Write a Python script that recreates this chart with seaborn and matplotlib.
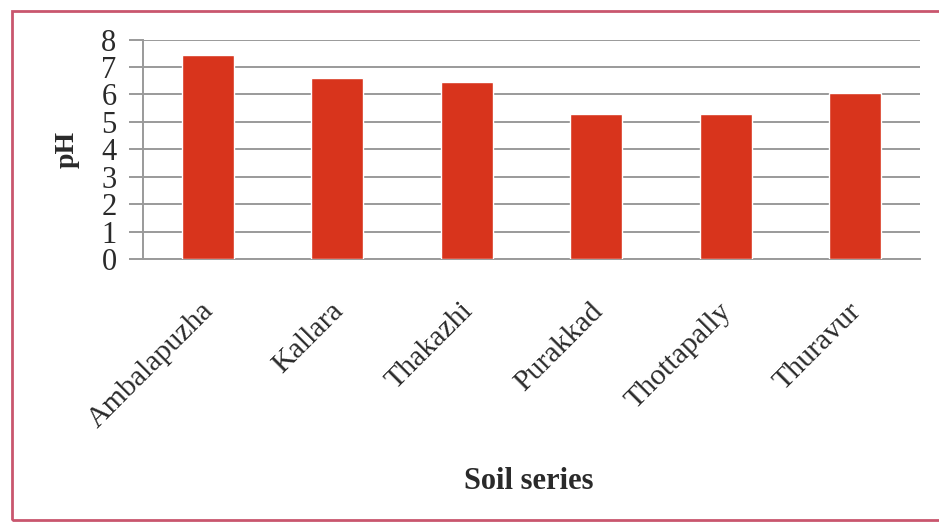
import matplotlib
matplotlib.use("Agg")
import matplotlib.pyplot as plt
import matplotlib.transforms as mtransforms
import seaborn as sns
import pandas as pd
from matplotlib.patches import Rectangle

# Soil pH by soil series
series = ["Ambalapuzha", "Kallara", "Thakazhi", "Purakkad", "Thottapally", "Thuravur"]
ph_values = [7.45, 6.6, 6.45, 5.27, 5.27, 6.06]
y_ticks = [0, 1, 2, 3, 4, 5, 6, 7, 8]

df = pd.DataFrame({"Soil series": series, "pH": ph_values})

sns.set_theme(style="white")
plt.rcParams["font.family"] = ["Liberation Serif", "DejaVu Serif"]

grid_color = "#9a9a9a"
bar_color = "#d8341c"
text_color = "#2a2a2a"

fig = plt.figure(figsize=(9.39, 5.26), dpi=100)
ax = fig.add_axes([0.1523, 0.5076, 0.8275, 0.4173])

sns.barplot(data=df, x="Soil series", y="pH", color=bar_color, width=0.4,
            saturation=1, ax=ax, zorder=3)

ax.set_xlim(-0.5, len(series) - 0.5)
ax.set_ylim(0, 8)
ax.set_yticks(y_ticks)
ax.set_yticklabels([str(t) for t in y_ticks], fontsize=22)
ax.yaxis.grid(True, color=grid_color, linewidth=1.4, zorder=0)
ax.set_axisbelow(True)

for side in ["top", "right"]:
    ax.spines[side].set_visible(False)
for side in ["left", "bottom"]:
    ax.spines[side].set_visible(True)
    ax.spines[side].set_color(grid_color)
    ax.spines[side].set_linewidth(1.4)

ax.tick_params(axis="y", which="major", left=True, length=10, width=1.4,
               color=grid_color, pad=9, labelcolor=text_color)
ax.tick_params(axis="x", bottom=False, pad=22, labelcolor=text_color)
shift = mtransforms.ScaledTranslation(-0.07, 0, fig.dpi_scale_trans)
for lbl in ax.get_xticklabels():
    lbl.set_rotation(45)
    lbl.set_ha("right")
    lbl.set_rotation_mode("anchor")
    lbl.set_fontsize(21.5)
    lbl.set_transform(lbl.get_transform() + shift)

ax.set_xlabel("")
ax.set_ylabel("pH", fontsize=20, fontweight="bold", color=text_color, labelpad=16)
fig.text(0.563, 0.085, "Soil series", fontsize=22, fontweight="bold",
         color=text_color, ha="center", va="center")

# Frame around the figure (open on the right edge)
fig.patches.append(Rectangle((12 / 939, 6 / 526), 940 / 939, 509 / 526,
                             transform=fig.transFigure, fill=False,
                             edgecolor="#c9566e", linewidth=2.0))

fig.savefig("out.png", dpi=100, facecolor="white")
